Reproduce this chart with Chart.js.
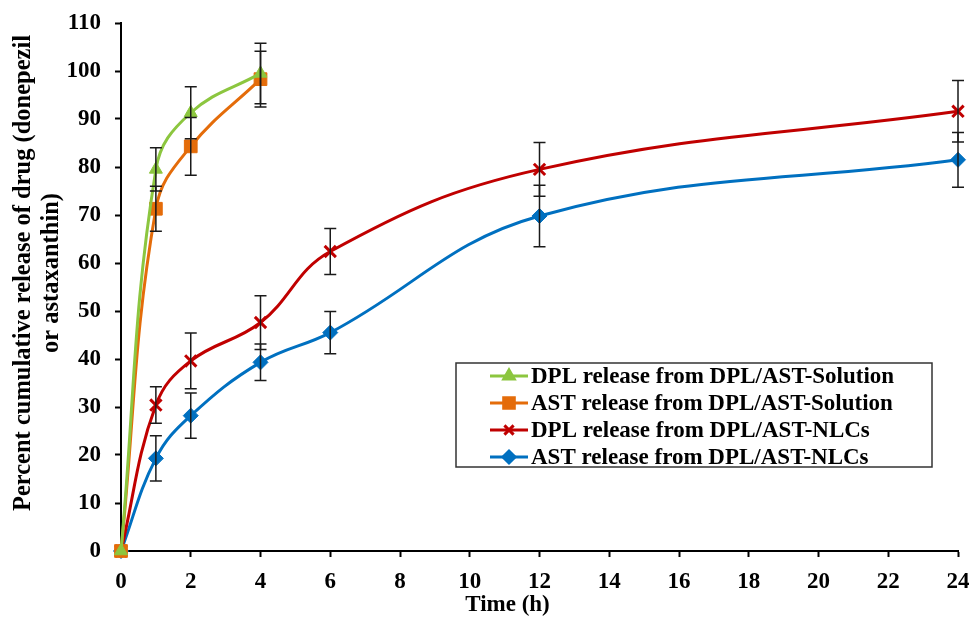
<!DOCTYPE html>
<html>
<head>
<meta charset="utf-8">
<script src="https://cdn.jsdelivr.net/npm/chart.js@4.4.0/dist/chart.umd.min.js"></script>
<style>
    body { margin: 0; background: #fff; }
</style>
</head>
<body>
<canvas id="grafico_liberacao" width="969" height="618"></canvas>
<script>
// Dados
const horas = [0, 1, 2, 4, 6, 12, 24]
const horasSolucao = [0, 1, 2, 4]

const dplSolucao = [0, 79.5, 91.3, 99.5]
const dplSolucaoErro = [0, 4.5, 5.4, 6.3]
const astSolucao = [0, 71.3, 84.3, 98.3]
const astSolucaoErro = [0, 4.7, 6.0, 5.8]

const dplNlc = [0, 30.4, 39.6, 47.6, 62.4, 79.5, 91.6]
const dplNlcErro = [0, 3.8, 5.8, 5.6, 4.8, 5.6, 6.4]
const astNlc = [0, 19.3, 28.2, 39.3, 45.5, 69.8, 81.5]
const astNlcErro = [0, 4.7, 4.7, 3.8, 4.4, 6.4, 5.7]

const rotulos = [
    'DPL release from DPL/AST-Solution',
    'AST release from DPL/AST-Solution',
    'DPL release from DPL/AST-NLCs',
    'AST release from DPL/AST-NLCs'
]

const tituloY = ['Percent cumulative release of drug (donepezil', 'or astaxanthin)']
const tituloX = 'Time (h)'

const familia = '"Liberation Serif", "Times New Roman", serif'

function pontos(xs, ys) {
    return xs.map((x, i) => ({ x: x, y: ys[i] }))
}

function serie(nome, xs, ys, erros, cor, estilo, raio) {
    return {
        label: nome,
        data: pontos(xs, ys),
        erros: erros,
        borderColor: cor,
        backgroundColor: cor,
        pointBackgroundColor: cor,
        pointBorderColor: cor,
        pointStyle: estilo,
        pointRadius: raio,
        pointBorderWidth: estilo == 'crossRot' ? 3 : 1,
        borderWidth: 3,
        tension: 0.4,
        fill: false,
        clip: false
    }
}

// barras de erro desenhadas pelas escalas do próprio chart
const barrasErro = {
    id: 'barrasErro',
    afterDatasetsDraw(chart) {
        const ctx = chart.ctx
        const sx = chart.scales.x
        const sy = chart.scales.y
        ctx.save()
        ctx.strokeStyle = '#1a1a1a'
        ctx.lineWidth = 1.5
        chart.data.datasets.forEach(ds => {
            ds.data.forEach((p, i) => {
                let e = ds.erros[i]
                if (!e) return
                let px = sx.getPixelForValue(p.x)
                let topo = sy.getPixelForValue(p.y + e)
                let base = sy.getPixelForValue(p.y - e)
                ctx.beginPath()
                ctx.moveTo(px, topo); ctx.lineTo(px, base)
                ctx.moveTo(px - 6, topo); ctx.lineTo(px + 6, topo)
                ctx.moveTo(px - 6, base); ctx.lineTo(px + 6, base)
                ctx.stroke()
            })
        })
        ctx.restore()
    }
}

// legenda em caixa e títulos dos eixos
const extras = {
    id: 'extras',
    afterDraw(chart) {
        const ctx = chart.ctx
        const area = chart.chartArea
        ctx.save()

        // caixa da legenda
        let lx = area.left + 335
        let ly = area.top + 340
        ctx.strokeStyle = '#333'
        ctx.lineWidth = 1.5
        ctx.strokeRect(lx, ly, 476, 104)

        ctx.font = 'bold 23px ' + familia
        ctx.textBaseline = 'middle'
        ctx.textAlign = 'left'
        chart.data.datasets.forEach((ds, i) => {
            let cy = ly + 13 + i * 27
            ctx.strokeStyle = ds.borderColor
            ctx.fillStyle = ds.backgroundColor
            ctx.lineWidth = 3
            ctx.beginPath()
            ctx.moveTo(lx + 34, cy)
            ctx.lineTo(lx + 72, cy)
            ctx.stroke()
            Chart.helpers.drawPoint(ctx, {
                pointStyle: ds.pointStyle,
                radius: ds.pointRadius - 1.5,
                borderWidth: ds.pointBorderWidth
            }, lx + 53, cy)
            ctx.fillStyle = '#000'
            ctx.fillText(ds.label, lx + 75, cy + 1)
        })

        // título do eixo Y (duas linhas)
        ctx.fillStyle = '#000'
        ctx.textAlign = 'center'
        ctx.font = 'bold 24.5px ' + familia
        ctx.translate(0, 273)
        ctx.rotate(-Math.PI / 2)
        ctx.fillText(tituloY[0], 0, 24)
        ctx.fillText(tituloY[1], 0, 52)
        ctx.setTransform(1, 0, 0, 1, 0, 0)

        // título do eixo X
        ctx.font = 'bold 23px ' + familia
        ctx.fillText(tituloX, (area.left + area.right) / 2 - 32, 605)
        ctx.restore()
    }
}

let grafico = new Chart(document.getElementById('grafico_liberacao'), {
    type: 'line',
    data: {
        datasets: [
            serie(rotulos[0], horasSolucao, dplSolucao, dplSolucaoErro, '#8CC63F', 'triangle', 7.5),
            serie(rotulos[1], horasSolucao, astSolucao, astSolucaoErro, '#E46C0A', 'rect', 9),
            serie(rotulos[2], horas, dplNlc, dplNlcErro, '#C00000', 'crossRot', 8),
            serie(rotulos[3], horas, astNlc, astNlcErro, '#0070C0', 'rectRot', 7.5)
        ]
    },
    options: {
        responsive: false,
        animation: false,
        devicePixelRatio: 1,
        layout: { padding: { top: 23, right: 11, left: 0, bottom: 0 } },
        plugins: {
            legend: { display: false },
            tooltip: { enabled: false }
        },
        scales: {
            x: {
                type: 'linear',
                min: 0,
                max: 24,
                afterFit(s) {
                    s.height = 67
                    s.paddingLeft = 0
                    s.paddingRight = 0
                },
                ticks: {
                    stepSize: 2,
                    color: '#000',
                    padding: 11,
                    font: { family: familia, size: 23, weight: 'bold' }
                },
                grid: { drawOnChartArea: false, color: '#000', tickLength: 6, tickWidth: 2 },
                border: { color: '#000', width: 2 }
            },
            y: {
                min: 0,
                max: 110,
                afterFit(s) {
                    s.width = 121
                    s.paddingTop = 0
                    s.paddingBottom = 0
                },
                ticks: {
                    stepSize: 10,
                    color: '#000',
                    padding: 14,
                    font: { family: familia, size: 23, weight: 'bold' }
                },
                grid: { drawOnChartArea: false, color: '#000', tickLength: 6, tickWidth: 2 },
                border: { color: '#000', width: 2 }
            }
        }
    },
    plugins: [barrasErro, extras]
})
</script>
</body>
</html>
